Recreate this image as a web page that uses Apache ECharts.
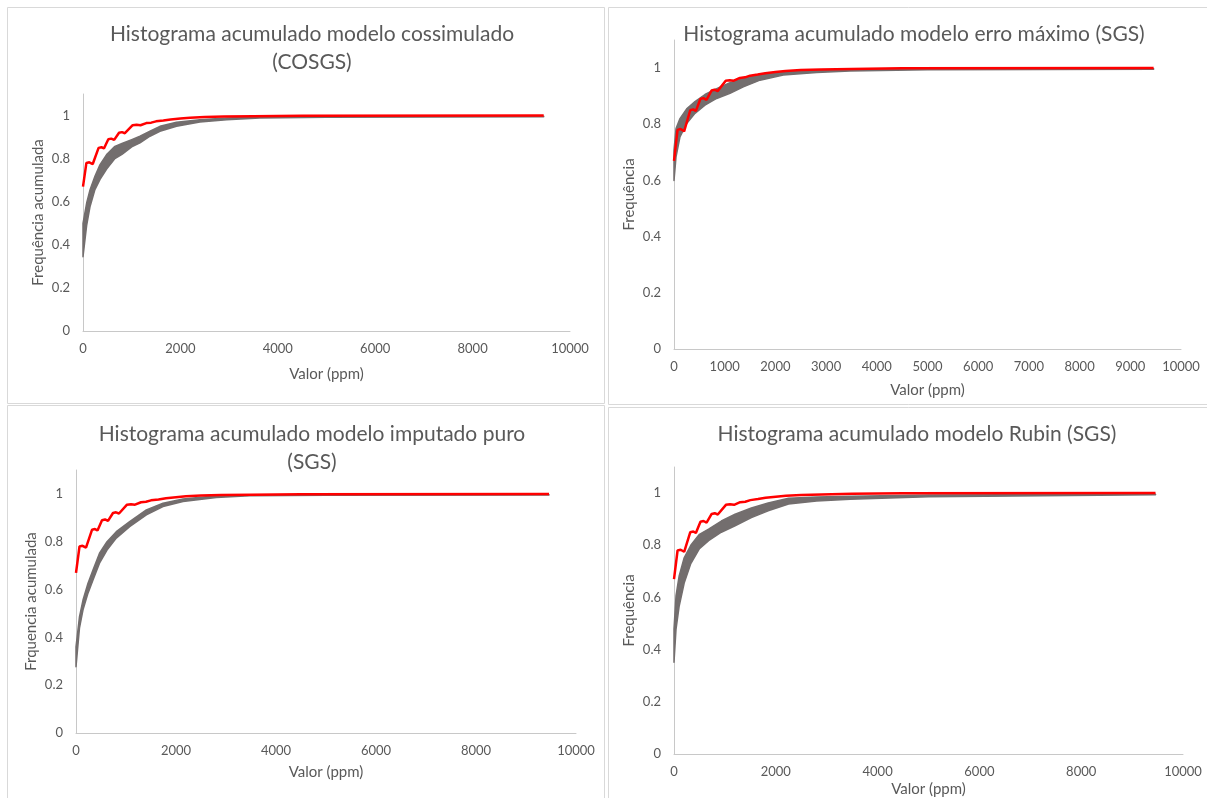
<!DOCTYPE html>
<html>
<head>
<meta charset="utf-8">
<script src="https://cdn.jsdelivr.net/npm/echarts@6/dist/echarts.min.js"></script>
<style>html,body{margin:0;padding:0;background:#fff}#c{width:1207px;height:798px}</style>
</head>
<body>
<div id="c"></div>
<script>
// ---- data ----
const titles = [
  'Histograma acumulado modelo cossimulado\n(COSGS)',
  'Histograma acumulado modelo erro máximo (SGS)',
  'Histograma acumulado modelo imputado puro\n(SGS)',
  'Histograma acumulado modelo Rubin (SGS)'
];
const yNames = ['Frequência acumulada', 'Frequência', 'Frquencia acumulada', 'Frequência'];
const xName = 'Valor (ppm)';
const xIntervals = [2000, 1000, 2000, 2000];

// experimental (red) cumulative curve, shared by all panels
const redX = [0, 70, 130, 200, 320, 380, 430, 520, 580, 640, 740, 800, 860, 1020, 1100, 1180, 1300, 1400, 1500, 1650, 1800, 2000, 2200, 2500, 2900, 3500, 4500, 9460];
const redY = [0.67, 0.78, 0.783, 0.775, 0.85, 0.853, 0.847, 0.89, 0.893, 0.887, 0.92, 0.923, 0.918, 0.955, 0.957, 0.955, 0.965, 0.967, 0.973, 0.977, 0.982, 0.986, 0.99, 0.993, 0.995, 0.997, 0.999, 1.0];

// simulated envelopes (gray band): lower and upper bounds
const p1X    = [0, 75, 145, 245, 350, 485, 655, 800, 1000, 1170, 1375, 1580, 1920, 2400, 2950, 3630, 5000, 9460];
const p1Low  = [0.345, 0.49, 0.578, 0.656, 0.704, 0.752, 0.80, 0.82, 0.855, 0.873, 0.904, 0.927, 0.95, 0.97, 0.98, 0.989, 0.992, 0.994];
const p1High = [0.50, 0.594, 0.656, 0.718, 0.772, 0.819, 0.857, 0.87, 0.888, 0.904, 0.927, 0.95, 0.969, 0.98, 0.989, 0.994, 0.996, 0.997];

const p2X    = [0, 40, 118, 250, 414, 611, 841, 1105, 1367, 1696, 2156, 2815, 3472, 5000, 9460];
const p2Low  = [0.60, 0.684, 0.755, 0.803, 0.839, 0.868, 0.892, 0.91, 0.933, 0.957, 0.975, 0.984, 0.99, 0.994, 0.996];
const p2High = [0.708, 0.785, 0.82, 0.855, 0.881, 0.906, 0.927, 0.948, 0.963, 0.977, 0.987, 0.993, 0.996, 0.998, 0.998];

const p3X    = [0, 70, 140, 240, 340, 470, 620, 806, 1073, 1407, 1740, 2140, 2807, 3474, 5000, 9460];
const p3Low  = [0.277, 0.44, 0.515, 0.585, 0.64, 0.71, 0.765, 0.815, 0.863, 0.912, 0.947, 0.968, 0.985, 0.992, 0.994, 0.995];
const p3High = [0.36, 0.487, 0.556, 0.626, 0.682, 0.752, 0.80, 0.842, 0.884, 0.933, 0.961, 0.979, 0.992, 0.996, 0.997, 0.997];

const p4X    = [0, 40, 100, 200, 330, 500, 680, 930, 1200, 1520, 1850, 2250, 2800, 3460, 5000, 9460];
const p4Low  = [0.352, 0.479, 0.565, 0.655, 0.73, 0.787, 0.818, 0.85, 0.875, 0.906, 0.932, 0.958, 0.97, 0.976, 0.986, 0.994];
const p4High = [0.479, 0.607, 0.681, 0.752, 0.80, 0.842, 0.862, 0.893, 0.919, 0.943, 0.962, 0.98, 0.985, 0.988, 0.993, 0.996];

const bands = [[p1X, p1Low, p1High], [p2X, p2Low, p2High], [p3X, p3Low, p3High], [p4X, p4Low, p4High]];

// ---- layout ----
const grids = [
  {left: 83, top: 94, width: 487, height: 237},
  {left: 674, top: 40, width: 507, height: 309},
  {left: 76, top: 470, width: 500, height: 263},
  {left: 674, top: 467, width: 509, height: 289}
];
const titlePos = [
  {x: 307, y: 15}, {x: 909, y: 15}, {x: 307, y: 415}, {x: 912, y: 415}
];
const xNameGaps = [36, 34, 32, 28];

const FONT = 'Lato, "Liberation Sans", sans-serif';
const TXT = '#595959';
const GRAY = '#736e6e';
const RED = '#FF0000';
const AXIS = '#C8C8C8';

const option = {
  animation: false,
  backgroundColor: '#ffffff',
  title: titles.map((t, i) => ({
    text: t, left: titlePos[i].x, top: titlePos[i].y, textAlign: 'center',
    textStyle: {fontFamily: FONT, fontSize: 21, fontWeight: 'normal', color: TXT, lineHeight: 28}
  })),
  grid: grids.map(g => Object.assign({containLabel: false}, g)),
  xAxis: grids.map((g, i) => ({
    type: 'value', gridIndex: i, min: 0, max: 10000, interval: xIntervals[i],
    name: xName, nameLocation: 'middle', nameGap: xNameGaps[i],
    nameTextStyle: {fontFamily: FONT, fontSize: 15, color: TXT},
    axisLine: {show: true, onZero: false, lineStyle: {color: AXIS, width: 1}},
    axisTick: {show: false}, splitLine: {show: false},
    axisLabel: {fontFamily: FONT, fontSize: 13, color: TXT, margin: 11, formatter: v => String(v)}
  })),
  yAxis: grids.map((g, i) => ({
    type: 'value', gridIndex: i, min: 0, max: 1.1, interval: 0.2,
    name: yNames[i], nameLocation: 'middle', nameGap: 37, nameRotate: 90,
    nameTextStyle: {fontFamily: FONT, fontSize: 15, color: TXT},
    axisLine: {show: true, lineStyle: {color: AXIS, width: 1}},
    axisTick: {show: false}, splitLine: {show: false},
    axisLabel: {fontFamily: FONT, fontSize: 13, color: TXT, margin: 13, showMaxLabel: false,
      formatter: v => (Math.abs(v * 5 - Math.round(v * 5)) < 1e-6 ? String(+v.toFixed(1)) : '')}
  })),
  graphic: [
    {type: 'rect', shape: {x: 7.5, y: 7.5, width: 597, height: 396}, style: {fill: 'none', stroke: '#D9D9D9', lineWidth: 1}, silent: true},
    {type: 'rect', shape: {x: 608.5, y: 7.5, width: 610, height: 397}, style: {fill: 'none', stroke: '#D9D9D9', lineWidth: 1}, silent: true},
    {type: 'rect', shape: {x: 7.5, y: 405.5, width: 597, height: 400}, style: {fill: 'none', stroke: '#D9D9D9', lineWidth: 1}, silent: true},
    {type: 'rect', shape: {x: 608.5, y: 407.5, width: 610, height: 400}, style: {fill: 'none', stroke: '#D9D9D9', lineWidth: 1}, silent: true}
  ],
  series: []
};

bands.forEach((b, i) => {
  const [xs, lo, hi] = b;
  // gray envelope as a filled polygon between lower and upper bounds
  option.series.push({
    type: 'custom', xAxisIndex: i, yAxisIndex: i, z: 2,
    data: xs.map((x, k) => [x, lo[k], hi[k]]),
    encode: {x: 0, y: [1, 2]},
    renderItem: (params, api) => {
      if (params.dataIndex !== 0) return null;
      const top = xs.map((x, k) => api.coord([x, hi[k]]));
      const bot = xs.map((x, k) => api.coord([x, lo[k]])).reverse();
      return {
        type: 'polygon',
        shape: {points: top.concat(bot)},
        style: {fill: GRAY, stroke: GRAY, lineWidth: 1.5, lineJoin: 'round'}
      };
    }
  });
  option.series.push({
    type: 'line', xAxisIndex: i, yAxisIndex: i, symbol: 'none', z: 3,
    data: redX.map((x, k) => [x, redY[k]]),
    lineStyle: {color: RED, width: 2.5}
  });
});

const chart = echarts.init(document.getElementById('c'), null, {renderer: 'canvas'});
chart.setOption(option);
</script>
</body>
</html>
